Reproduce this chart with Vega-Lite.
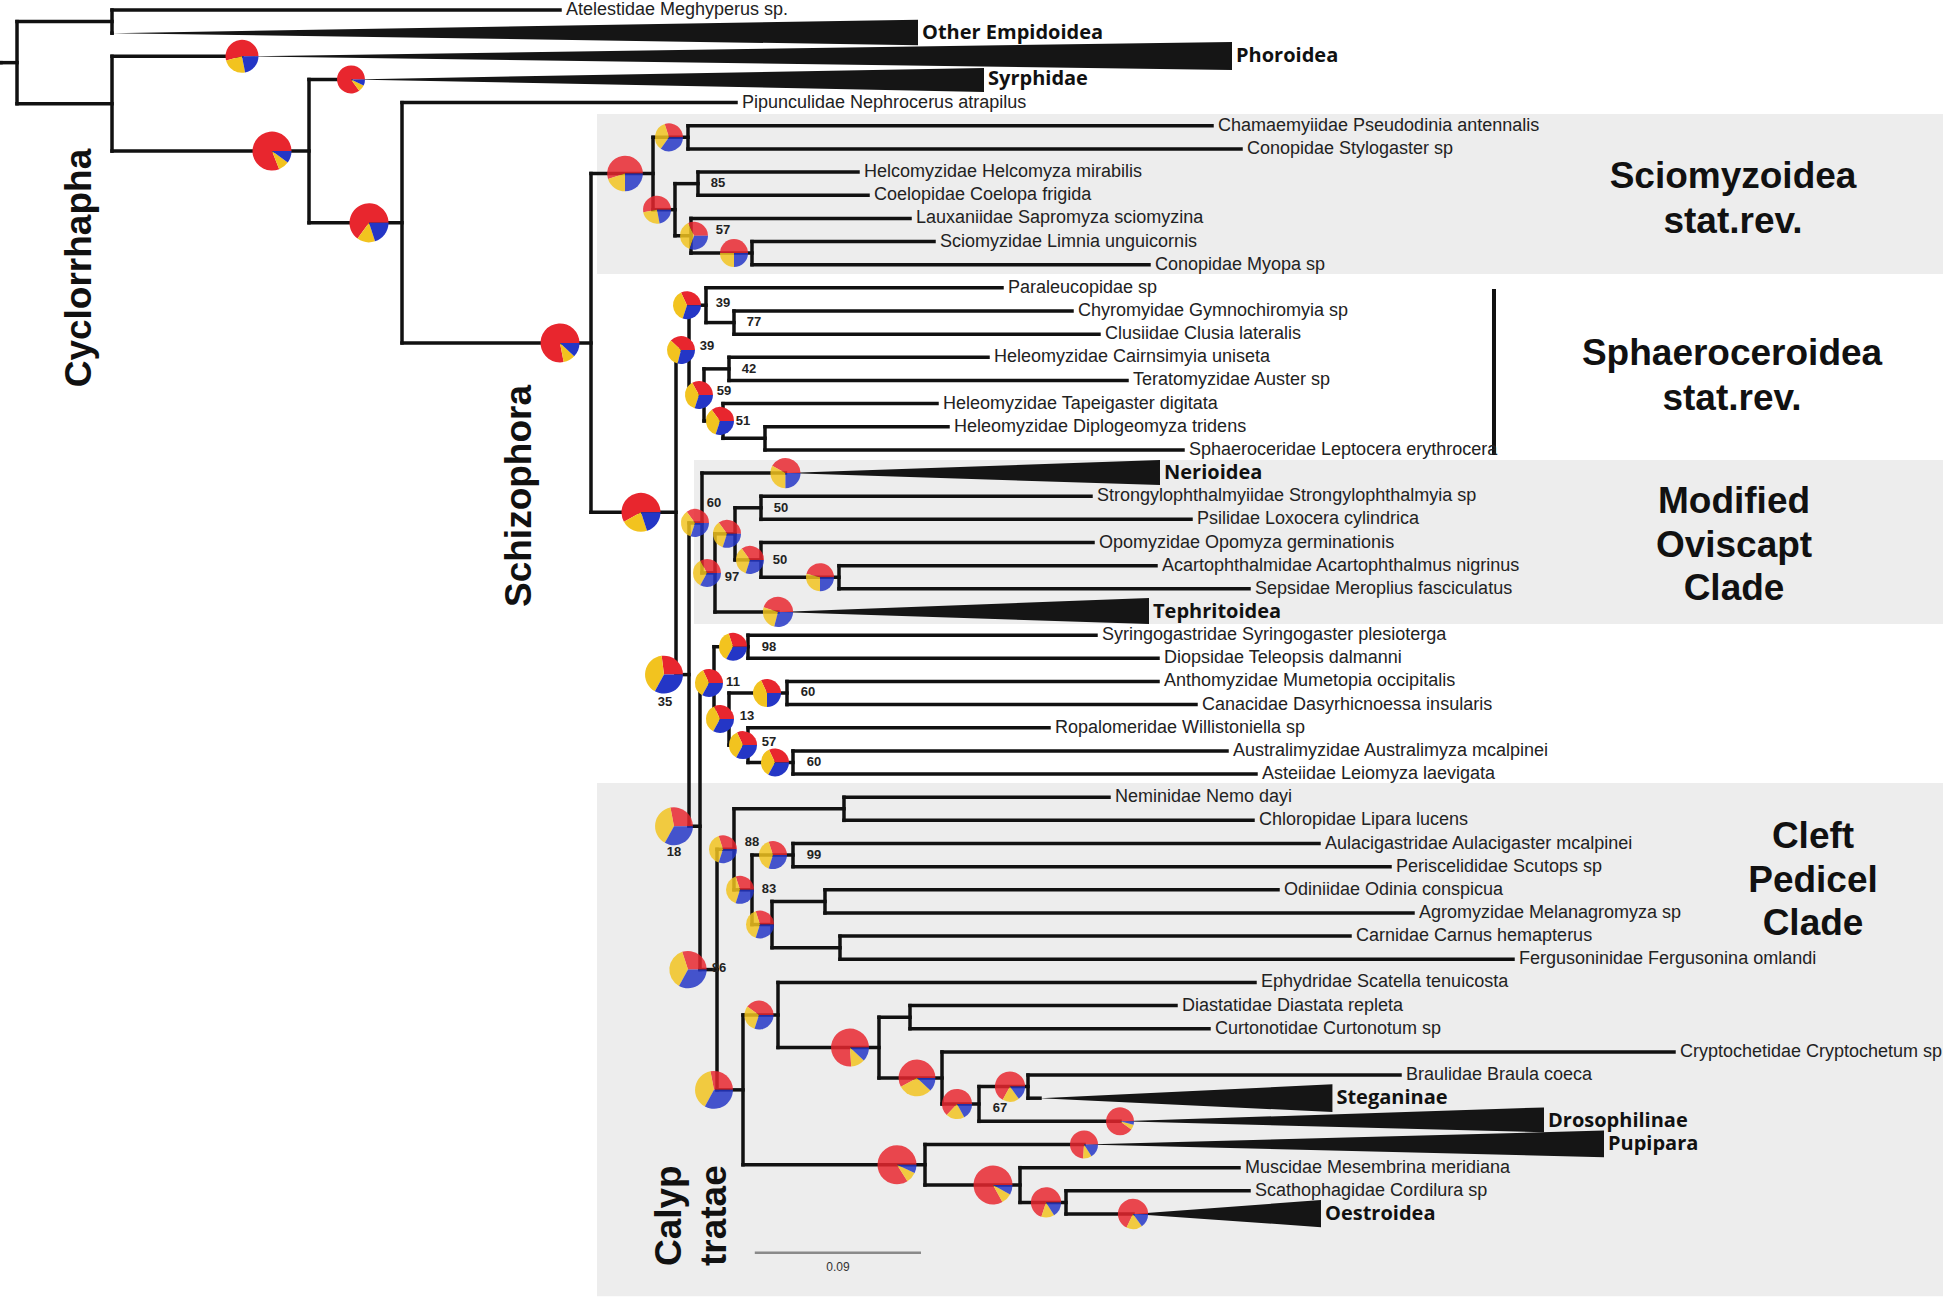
{
"$schema": "https://vega.github.io/schema/vega-lite/v6.json",
"width": 1946, "height": 1298,
"autosize": {"type": "none"},
"padding": 0,
"background": "#ffffff",
"config": {"view": {"stroke": null}},
"datasets": {
"boxes": [
{"g":"Sciomyzoidea","x0":0.31446,"x1":1.04424,"r0":4.49,"r1":11.4},
{"g":"Modified Oviscapt Clade","x0":0.36706,"x1":1.04424,"r0":19.44,"r1":26.52},
{"g":"Cleft Pedicel Clade","x0":0.31446,"x1":1.04424,"r0":33.39,"r1":55.55}
],
"nodes": [
{"id":"base","p":null,"d":-0.00868,"r":2.274},
{"id":"R","p":"base","d":0,"r":2.274},
{"id":"A","p":"R","d":0.05151,"r":0.5},
{"id":"Atel","p":"A","d":0.2944,"r":0,"lab":"Atelestidae Meghyperus sp."},
{"id":"OE","p":"A","d":0.05151,"r":1},
{"id":"B","p":"R","d":0.05151,"r":4.0475},
{"id":"Pho","p":"B","d":0.12199,"r":2},
{"id":"C","p":"B","d":0.15832,"r":6.095},
{"id":"Syr","p":"C","d":0.18109,"r":3},
{"id":"D","p":"C","d":0.20874,"r":9.19},
{"id":"Pip","p":"D","d":0.38983,"r":4,"lab":"Pipunculidae Nephrocerus atrapilus"},
{"id":"E","p":"D","d":0.31121,"r":14.379},
{"id":"F","p":"E","d":0.34483,"r":7.0625},
{"id":"F1","p":"F","d":0.3638,"r":5.5},
{"id":"Cham","p":"F1","d":0.64791,"r":5,"lab":"Chamaemyiidae Pseudodinia antennalis"},
{"id":"Sty","p":"F1","d":0.66363,"r":6,"lab":"Conopidae Stylogaster sp"},
{"id":"F2","p":"F","d":0.35675,"r":8.625},
{"id":"F3","p":"F2","d":0.36922,"r":7.5},
{"id":"Hel","p":"F3","d":0.45597,"r":7,"lab":"Helcomyzidae Helcomyza mirabilis"},
{"id":"Coe","p":"F3","d":0.4614,"r":8,"lab":"Coelopidae Coelopa frigida"},
{"id":"F4","p":"F2","d":0.36543,"r":9.75},
{"id":"Lau","p":"F4","d":0.48417,"r":9,"lab":"Lauxaniidae Sapromyza sciomyzina"},
{"id":"F5","p":"F4","d":0.3985,"r":10.5},
{"id":"Sci","p":"F5","d":0.49718,"r":10,"lab":"Sciomyzidae Limnia unguicornis"},
{"id":"Myo","p":"F5","d":0.61375,"r":11,"lab":"Conopidae Myopa sp"},
{"id":"G","p":"E","d":0.3573,"r":21.696},
{"id":"H","p":"G","d":0.36435,"r":14.6875},
{"id":"H1","p":"H","d":0.37356,"r":12.75},
{"id":"Par","p":"H1","d":0.53405,"r":12,"lab":"Paraleucopidae sp"},
{"id":"H2","p":"H1","d":0.38874,"r":13.5},
{"id":"Chy","p":"H2","d":0.572,"r":13,"lab":"Chyromyidae Gymnochiromyia sp"},
{"id":"Clu","p":"H2","d":0.58664,"r":14,"lab":"Clusiidae Clusia lateralis"},
{"id":"H3","p":"H","d":0.37248,"r":16.625},
{"id":"H5","p":"H3","d":0.38603,"r":15.5},
{"id":"Cai","p":"H5","d":0.52646,"r":15,"lab":"Heleomyzidae Cairnsimyia uniseta"},
{"id":"Ter","p":"H5","d":0.60182,"r":16,"lab":"Teratomyzidae Auster sp"},
{"id":"H6","p":"H3","d":0.38278,"r":17.75},
{"id":"Tap","p":"H6","d":0.49881,"r":17,"lab":"Heleomyzidae Tapeigaster digitata"},
{"id":"H7","p":"H6","d":0.40555,"r":18.5},
{"id":"Dip","p":"H7","d":0.50477,"r":18,"lab":"Heleomyzidae Diplogeomyza tridens"},
{"id":"Sph","p":"H7","d":0.63218,"r":19,"lab":"Sphaeroceridae Leptocera erythrocera"},
{"id":"I","p":"G","d":0.36435,"r":28.705},
{"id":"J","p":"I","d":0.37139,"r":22.156},
{"id":"Ner","p":"J","d":0.41664,"r":20},
{"id":"J1","p":"J","d":0.37844,"r":24.3125},
{"id":"J2","p":"J1","d":0.38929,"r":22.625},
{"id":"J3","p":"J2","d":0.40338,"r":21.5},
{"id":"Str","p":"J3","d":0.5823,"r":21,"lab":"Strongylophthalmyiidae Strongylophthalmyia sp"},
{"id":"Psi","p":"J3","d":0.63652,"r":22,"lab":"Psilidae Loxocera cylindrica"},
{"id":"J4","p":"J2","d":0.40338,"r":23.75},
{"id":"Opo","p":"J4","d":0.58339,"r":23,"lab":"Opomyzidae Opomyza germinationis"},
{"id":"J5","p":"J4","d":0.44567,"r":24.5},
{"id":"Aca","p":"J5","d":0.61754,"r":24,"lab":"Acartophthalmidae Acartophthalmus nigrinus"},
{"id":"Sep","p":"J5","d":0.66797,"r":25,"lab":"Sepsidae Meroplius fasciculatus"},
{"id":"Tep","p":"J1","d":0.4126,"r":26},
{"id":"K","p":"I","d":0.37031,"r":35.254},
{"id":"L","p":"K","d":0.3779,"r":29.0625},
{"id":"L1","p":"L","d":0.39633,"r":27.5},
{"id":"Syg","p":"L1","d":0.58501,"r":27,"lab":"Syringogastridae Syringogaster plesioterga"},
{"id":"Dio","p":"L1","d":0.61863,"r":28,"lab":"Diopsidae Teleopsis dalmanni"},
{"id":"L2","p":"L","d":0.38603,"r":30.625},
{"id":"L3","p":"L2","d":0.41748,"r":29.5},
{"id":"Ant","p":"L3","d":0.61863,"r":29,"lab":"Anthomyzidae Mumetopia occipitalis"},
{"id":"Can","p":"L3","d":0.63923,"r":30,"lab":"Canacidae Dasyrhicnoessa insularis"},
{"id":"L4","p":"L2","d":0.39633,"r":31.75},
{"id":"Rop","p":"L4","d":0.55953,"r":31,"lab":"Ropalomeridae Willistoniella sp"},
{"id":"L5","p":"L4","d":0.42073,"r":32.5},
{"id":"Aus","p":"L5","d":0.65604,"r":32,"lab":"Australimyzidae Australimyza mcalpinei"},
{"id":"Ast","p":"L5","d":0.67176,"r":33,"lab":"Asteiidae Leiomyza laevigata"},
{"id":"M","p":"K","d":0.37953,"r":41.445},
{"id":"N","p":"M","d":0.38874,"r":36.25},
{"id":"N1","p":"N","d":0.44838,"r":34.5},
{"id":"Nem","p":"N1","d":0.59206,"r":34,"lab":"Neminidae Nemo dayi"},
{"id":"Chl","p":"N1","d":0.67013,"r":35,"lab":"Chloropidae Lipara lucens"},
{"id":"N2","p":"N","d":0.3985,"r":38},
{"id":"N3","p":"N2","d":0.42073,"r":36.5},
{"id":"Aul","p":"N3","d":0.70592,"r":36,"lab":"Aulacigastridae Aulacigaster mcalpinei"},
{"id":"Per","p":"N3","d":0.74442,"r":37,"lab":"Periscelididae Scutops sp"},
{"id":"N4","p":"N2","d":0.40935,"r":39.5},
{"id":"N5","p":"N4","d":0.43808,"r":38.5},
{"id":"Odi","p":"N5","d":0.68369,"r":38,"lab":"Odiniidae Odinia conspicua"},
{"id":"Agr","p":"N5","d":0.75688,"r":39,"lab":"Agromyzidae Melanagromyza sp"},
{"id":"N6","p":"N4","d":0.44621,"r":40.5},
{"id":"Car","p":"N6","d":0.72273,"r":40,"lab":"Carnidae Carnus hemapterus"},
{"id":"Fer","p":"N6","d":0.8111,"r":41,"lab":"Fergusoninidae Fergusonina omlandi"},
{"id":"O","p":"M","d":0.39362,"r":46.64},
{"id":"P","p":"O","d":0.4126,"r":43.406},
{"id":"Eph","p":"P","d":0.67122,"r":42,"lab":"Ephydridae Scatella tenuicosta"},
{"id":"P1","p":"P","d":0.46736,"r":44.8125},
{"id":"P2","p":"P1","d":0.48417,"r":43.5},
{"id":"Dia","p":"P2","d":0.62839,"r":43,"lab":"Diastatidae Diastata repleta"},
{"id":"Cur","p":"P2","d":0.64628,"r":44,"lab":"Curtonotidae Curtonotum sp"},
{"id":"P3","p":"P1","d":0.50152,"r":46.125},
{"id":"Cry","p":"P3","d":0.89839,"r":45,"lab":"Cryptochetidae Cryptochetum sp"},
{"id":"P4","p":"P3","d":0.52158,"r":47.25},
{"id":"P5","p":"P4","d":0.54814,"r":46.5},
{"id":"Bra","p":"P5","d":0.74984,"r":46,"lab":"Braulidae Braula coeca"},
{"id":"Ste","p":"P5","d":0.55465,"r":47},
{"id":"Dro","p":"P4","d":0.59803,"r":48},
{"id":"Q","p":"O","d":0.4923,"r":49.875},
{"id":"Pup","p":"Q","d":0.57851,"r":49},
{"id":"Q1","p":"Q","d":0.54381,"r":50.75},
{"id":"Mus","p":"Q1","d":0.66254,"r":50,"lab":"Muscidae Mesembrina meridiana"},
{"id":"Q2","p":"Q1","d":0.56875,"r":51.5},
{"id":"Sca","p":"Q2","d":0.66797,"r":51,"lab":"Scathophagidae Cordilura sp"},
{"id":"Oes","p":"Q2","d":0.60507,"r":52}
],
"tri": [
{"c":"Other Empidoidea","d":0.05151,"r":1,"lo":1,"hi":1},
{"c":"Other Empidoidea","d":0.4885,"r":1,"lo":0.42,"hi":1.52},
{"c":"Phoroidea","d":0.12199,"r":2,"lo":2,"hi":2},
{"c":"Phoroidea","d":0.65875,"r":2,"lo":1.38,"hi":2.59},
{"c":"Syrphidae","d":0.18109,"r":3,"lo":3,"hi":3},
{"c":"Syrphidae","d":0.52429,"r":3,"lo":2.5,"hi":3.54},
{"c":"Nerioidea","d":0.41664,"r":20,"lo":20,"hi":20},
{"c":"Nerioidea","d":0.61971,"r":20,"lo":19.44,"hi":20.52},
{"c":"Tephritoidea","d":0.4126,"r":26,"lo":26,"hi":26},
{"c":"Tephritoidea","d":0.61375,"r":26,"lo":25.4,"hi":26.52},
{"c":"Steganinae","d":0.55465,"r":47,"lo":47,"hi":47},
{"c":"Steganinae","d":0.7132,"r":47,"lo":46.4,"hi":47.6},
{"c":"Drosophilinae","d":0.59803,"r":48,"lo":48,"hi":48},
{"c":"Drosophilinae","d":0.82791,"r":48,"lo":47.4,"hi":48.47},
{"c":"Pupipara","d":0.57851,"r":49,"lo":49,"hi":49},
{"c":"Pupipara","d":0.86044,"r":49,"lo":48.4,"hi":49.55},
{"c":"Oestroidea","d":0.60507,"r":52,"lo":52,"hi":52},
{"c":"Oestroidea","d":0.707,"r":52,"lo":51.4,"hi":52.57}
],
"pies": [
{"n":"Pho","hl":false,"d":0.12199,"r":2,"s":1.9,"q1":0.54,"q2":0.24,"q3":0.22},
{"n":"Syr","hl":false,"d":0.18109,"r":3,"s":1,"q1":0.85,"q2":0.08,"q3":0.07},
{"n":"C","hl":false,"d":0.13826,"r":6.095,"s":3,"q1":0.81,"q2":0.09,"q3":0.1},
{"n":"D","hl":false,"d":0.19085,"r":9.19,"s":3,"q1":0.65,"q2":0.15,"q3":0.2},
{"n":"E","hl":false,"d":0.2944,"r":14.379,"s":3,"q1":0.78,"q2":0.1,"q3":0.12},
{"n":"F","hl":true,"d":0.32965,"r":7.0625,"s":2.4,"q1":0.55,"q2":0.2,"q3":0.25},
{"n":"F1","hl":true,"d":0.3535,"r":5.5,"s":1,"q1":0.3,"q2":0.35,"q3":0.35},
{"n":"F2","hl":true,"d":0.347,"r":8.625,"s":1,"q1":0.53,"q2":0.25,"q3":0.22},
{"n":"F4","hl":true,"d":0.36706,"r":9.75,"s":1,"q1":0.32,"q2":0.38,"q3":0.3},
{"n":"F5","hl":true,"d":0.38874,"r":10.5,"s":1,"q1":0.5,"q2":0.25,"q3":0.25},
{"n":"G","hl":false,"d":0.33832,"r":21.696,"s":3,"q1":0.58,"q2":0.22,"q3":0.2},
{"n":"H1","hl":false,"d":0.36326,"r":12.75,"s":1,"q1":0.32,"q2":0.38,"q3":0.3},
{"n":"H","hl":false,"d":0.36001,"r":14.6875,"s":1,"q1":0.38,"q2":0.33,"q3":0.29},
{"n":"H3","hl":false,"d":0.36977,"r":16.625,"s":1,"q1":0.33,"q2":0.37,"q3":0.3},
{"n":"H6","hl":false,"d":0.38115,"r":17.75,"s":1,"q1":0.35,"q2":0.35,"q3":0.3},
{"n":"Ner","hl":true,"d":0.41664,"r":20,"s":1.4,"q1":0.42,"q2":0.33,"q3":0.25},
{"n":"J","hl":true,"d":0.3676,"r":22.156,"s":1,"q1":0.35,"q2":0.35,"q3":0.3},
{"n":"J2","hl":true,"d":0.38495,"r":22.625,"s":1,"q1":0.35,"q2":0.35,"q3":0.3},
{"n":"J4","hl":true,"d":0.39742,"r":23.75,"s":1,"q1":0.35,"q2":0.35,"q3":0.3},
{"n":"J5","hl":true,"d":0.43537,"r":24.5,"s":1,"q1":0.46,"q2":0.29,"q3":0.25},
{"n":"J1","hl":true,"d":0.3741,"r":24.3125,"s":1,"q1":0.33,"q2":0.34,"q3":0.33},
{"n":"Tep","hl":true,"d":0.4126,"r":26,"s":1.4,"q1":0.45,"q2":0.26,"q3":0.29},
{"n":"I","hl":false,"d":0.35079,"r":28.705,"s":2.8,"q1":0.27,"q2":0.4,"q3":0.33},
{"n":"L1","hl":false,"d":0.3882,"r":27.5,"s":1,"q1":0.3,"q2":0.37,"q3":0.33},
{"n":"L","hl":false,"d":0.37518,"r":29.0625,"s":1,"q1":0.32,"q2":0.35,"q3":0.33},
{"n":"L3","hl":false,"d":0.40664,"r":29.5,"s":1,"q1":0.32,"q2":0.43,"q3":0.25},
{"n":"L2","hl":false,"d":0.38115,"r":30.625,"s":1,"q1":0.32,"q2":0.35,"q3":0.33},
{"n":"L4","hl":false,"d":0.39362,"r":31.75,"s":1,"q1":0.32,"q2":0.35,"q3":0.33},
{"n":"L5","hl":false,"d":0.41097,"r":32.5,"s":1,"q1":0.32,"q2":0.35,"q3":0.33},
{"n":"K","hl":true,"d":0.35621,"r":35.254,"s":2.8,"q1":0.28,"q2":0.39,"q3":0.33},
{"n":"N","hl":true,"d":0.38278,"r":36.25,"s":1,"q1":0.3,"q2":0.4,"q3":0.3},
{"n":"N3","hl":true,"d":0.40989,"r":36.5,"s":1,"q1":0.3,"q2":0.4,"q3":0.3},
{"n":"N2","hl":true,"d":0.392,"r":38,"s":1,"q1":0.3,"q2":0.4,"q3":0.3},
{"n":"N4","hl":true,"d":0.40284,"r":39.5,"s":1,"q1":0.3,"q2":0.4,"q3":0.3},
{"n":"M","hl":true,"d":0.3638,"r":41.445,"s":2.7,"q1":0.3,"q2":0.37,"q3":0.33},
{"n":"O","hl":true,"d":0.3779,"r":46.64,"s":2.8,"q1":0.28,"q2":0.39,"q3":0.33},
{"n":"P","hl":true,"d":0.4023,"r":43.406,"s":1.2,"q1":0.4,"q2":0.3,"q3":0.3},
{"n":"P1","hl":true,"d":0.45164,"r":44.8125,"s":2.8,"q1":0.76,"q2":0.12,"q3":0.12},
{"n":"P3","hl":true,"d":0.48796,"r":46.125,"s":2.6,"q1":0.58,"q2":0.3,"q3":0.12},
{"n":"P4","hl":true,"d":0.50965,"r":47.25,"s":1.4,"q1":0.63,"q2":0.2,"q3":0.17},
{"n":"P5","hl":true,"d":0.53838,"r":46.5,"s":1.4,"q1":0.67,"q2":0.18,"q3":0.15},
{"n":"Dro","hl":true,"d":0.59803,"r":48,"s":1,"q1":0.9,"q2":0.06,"q3":0.04},
{"n":"Q","hl":true,"d":0.47712,"r":49.875,"s":3,"q1":0.84,"q2":0.09,"q3":0.07},
{"n":"Pup","hl":true,"d":0.57851,"r":49,"s":1,"q1":0.74,"q2":0.1,"q3":0.16},
{"n":"Q1","hl":true,"d":0.52917,"r":50.75,"s":3,"q1":0.83,"q2":0.09,"q3":0.08},
{"n":"Q2","hl":true,"d":0.55791,"r":51.5,"s":1.4,"q1":0.7,"q2":0.14,"q3":0.16},
{"n":"Oes","hl":true,"d":0.60507,"r":52,"s":1.4,"q1":0.68,"q2":0.17,"q3":0.15}
],
"bs": [
{"t":"85","d":0.38007,"r":7.47},
{"t":"57","d":0.38278,"r":9.5},
{"t":"39","d":0.38278,"r":12.66},
{"t":"77","d":0.39959,"r":13.48},
{"t":"39","d":0.3741,"r":14.51},
{"t":"42","d":0.39688,"r":15.51},
{"t":"59","d":0.38332,"r":16.46},
{"t":"51","d":0.39362,"r":17.75},
{"t":"60","d":0.3779,"r":21.3},
{"t":"50","d":0.41422,"r":21.51},
{"t":"50","d":0.41368,"r":23.76},
{"t":"97","d":0.38766,"r":24.49},
{"t":"98","d":0.40772,"r":27.52},
{"t":"35","d":0.35133,"r":29.89},
{"t":"11","d":0.3882,"r":29.03},
{"t":"60","d":0.42886,"r":29.46},
{"t":"13","d":0.39579,"r":30.5},
{"t":"57","d":0.40772,"r":31.62},
{"t":"60","d":0.43211,"r":32.48},
{"t":"18","d":0.35621,"r":36.37},
{"t":"88","d":0.3985,"r":35.94},
{"t":"99","d":0.43211,"r":36.5},
{"t":"83","d":0.40772,"r":37.97},
{"t":"86","d":0.38061,"r":41.38},
{"t":"67","d":0.53296,"r":47.43}
],
"groups2": [
{"t":"Sciomyzoidea\nstat.rev.","d":0.9304,"r":7.22},
{"t":"Sphaeroceroidea\nstat.rev.","d":0.92986,"r":14.86}
],
"groups3": [
{"t":"Modified\nOviscapt\nClade","d":0.93094,"r":21.27},
{"t":"Cleft\nPedicel\nClade","d":0.97376,"r":35.72}
],
"vlab": [
{"t":"Cyclorrhapha","d":0.03416,"r":11.145},
{"t":"Schizophora","d":0.27245,"r":20.99}
]
},
"layer": [
{"data":{"name":"boxes"},"mark":{"type":"rect","color":"#ededed"},
 "encoding":{"x":{"field":"x0","type":"quantitative","scale":{"domain":[-0.00922,1.04587],"nice":false,"zero":false},"axis":null},"x2":{"field":"x1"},
  "y":{"field":"r0","type":"quantitative","scale":{"domain":[-0.432,55.63],"nice":false,"zero":false,"reverse":true},"axis":null},"y2":{"field":"r1"}}},
{"data":{"name":"nodes"},
 "transform":[{"filter":"isValid(datum.p)"},{"lookup":"p","from":{"data":{"name":"nodes"},"key":"id","fields":["d"]},"as":["pd"]}],
 "mark":{"type":"rule","color":"#111111","strokeWidth":3.5,"strokeCap":"square"},
 "encoding":{"x":{"field":"pd","type":"quantitative","scale":{"domain":[-0.00922,1.04587],"nice":false,"zero":false},"axis":null},"x2":{"field":"d"},
  "y":{"field":"r","type":"quantitative","scale":{"domain":[-0.432,55.63],"nice":false,"zero":false,"reverse":true},"axis":null}}},
{"data":{"name":"nodes"},
 "transform":[{"filter":"isValid(datum.p)"},{"aggregate":[{"op":"min","field":"r","as":"r0"},{"op":"max","field":"r","as":"r1"}],"groupby":["p"]},{"lookup":"p","from":{"data":{"name":"nodes"},"key":"id","fields":["d"]},"as":["pd"]}],
 "mark":{"type":"rule","color":"#111111","strokeWidth":3.5,"strokeCap":"square"},
 "encoding":{"x":{"field":"pd","type":"quantitative","scale":{"domain":[-0.00922,1.04587],"nice":false,"zero":false},"axis":null},
  "y":{"field":"r0","type":"quantitative","scale":{"domain":[-0.432,55.63],"nice":false,"zero":false,"reverse":true},"axis":null},"y2":{"field":"r1"}}},
{"data":{"name":"tri"},"mark":{"type":"area","color":"#151515","orient":"vertical"},
 "encoding":{"x":{"field":"d","type":"quantitative","scale":{"domain":[-0.00922,1.04587],"nice":false,"zero":false},"axis":null},
  "y":{"field":"lo","type":"quantitative","scale":{"domain":[-0.432,55.63],"nice":false,"zero":false,"reverse":true},"axis":null},"y2":{"field":"hi"},
  "detail":{"field":"c","type":"nominal"}}},
{"data":{"values":[{"d":0.8008,"r0":12.05,"r1":19.22}]},"mark":{"type":"rule","color":"#111111","strokeWidth":4},
 "encoding":{"x":{"field":"d","type":"quantitative","scale":{"domain":[-0.00922,1.04587],"nice":false,"zero":false},"axis":null},
  "y":{"field":"r0","type":"quantitative","scale":{"domain":[-0.432,55.63],"nice":false,"zero":false,"reverse":true},"axis":null},"y2":{"field":"r1"}}},
{"data":{"values":[{"a":0.40001,"b":0.49013,"r":53.68}]},"mark":{"type":"rule","color":"#8a8a8a","strokeWidth":2.5},
 "encoding":{"x":{"field":"a","type":"quantitative","scale":{"domain":[-0.00922,1.04587],"nice":false,"zero":false},"axis":null},"x2":{"field":"b"},
  "y":{"field":"r","type":"quantitative","scale":{"domain":[-0.432,55.63],"nice":false,"zero":false,"reverse":true},"axis":null}}},
{"data":{"values":[{"t":"0.09","d":0.44507,"r":54.3}]},"mark":{"type":"text","font":"Liberation Sans","fontSize":12,"color":"#333333","align":"center","baseline":"middle"},
 "encoding":{"x":{"field":"d","type":"quantitative","scale":{"domain":[-0.00922,1.04587],"nice":false,"zero":false},"axis":null},
  "y":{"field":"r","type":"quantitative","scale":{"domain":[-0.432,55.63],"nice":false,"zero":false,"reverse":true},"axis":null},"text":{"field":"t"}}},
{"data":{"name":"nodes"},"transform":[{"filter":"isValid(datum.lab)"}],
 "mark":{"type":"text","font":"Liberation Sans","fontSize":18,"color":"#222222","align":"left","baseline":"middle","dx":6},
 "encoding":{"x":{"field":"d","type":"quantitative","scale":{"domain":[-0.00922,1.04587],"nice":false,"zero":false},"axis":null},
  "y":{"field":"r","type":"quantitative","scale":{"domain":[-0.432,55.63],"nice":false,"zero":false,"reverse":true},"axis":null},"text":{"field":"lab"}}},
{"data":{"name":"tri"},"transform":[{"filter":"datum.lo < datum.hi"}],
 "mark":{"type":"text","font":"Open Sans","fontWeight":"bold","fontSize":20,"color":"#111111","align":"left","baseline":"middle","dx":4},
 "encoding":{"x":{"field":"d","type":"quantitative","scale":{"domain":[-0.00922,1.04587],"nice":false,"zero":false},"axis":null},
  "y":{"field":"r","type":"quantitative","scale":{"domain":[-0.432,55.63],"nice":false,"zero":false,"reverse":true},"axis":null},"text":{"field":"c"}}},
{"data":{"name":"pies"},
 "transform":[{"fold":["q1","q2","q3"],"as":["q","v"]},{"stack":"v","groupby":["n"],"sort":[{"field":"q","order":"descending"}],"offset":"normalize","as":["t0","t1"]}],
 "mark":{"type":"arc"},
 "encoding":{"x":{"field":"d","type":"quantitative","scale":{"domain":[-0.00922,1.04587],"nice":false,"zero":false},"axis":null},
  "y":{"field":"r","type":"quantitative","scale":{"domain":[-0.432,55.63],"nice":false,"zero":false,"reverse":true},"axis":null},
  "theta":{"field":"t0","type":"quantitative","stack":null,"scale":{"domain":[0,1],"range":[1.5708,7.854]}},
  "theta2":{"field":"t1"},
  "radius":{"field":"s","type":"quantitative","scale":{"type":"linear","domain":[1,3],"range":[14,19.5],"zero":false}},
  "radius2":{"value":0},
  "opacity":{"condition":{"test":"datum.hl","value":0.84},"value":1},
  "color":{"field":"q","type":"nominal","scale":{"domain":["q1","q2","q3"],"range":["#e8262e","#f2c31f","#2436c6"]},"legend":null}}},
{"data":{"name":"bs"},
 "mark":{"type":"text","font":"Liberation Sans","fontWeight":"bold","fontSize":13,"color":"#222222","align":"center","baseline":"middle"},
 "encoding":{"x":{"field":"d","type":"quantitative","scale":{"domain":[-0.00922,1.04587],"nice":false,"zero":false},"axis":null},
  "y":{"field":"r","type":"quantitative","scale":{"domain":[-0.432,55.63],"nice":false,"zero":false,"reverse":true},"axis":null},"text":{"field":"t"}}},
{"data":{"name":"groups2"},
 "mark":{"type":"text","font":"Liberation Sans","fontWeight":"bold","fontSize":37,"color":"#111111","align":"center","baseline":"middle","lineBreak":"\n","lineHeight":45},
 "encoding":{"x":{"field":"d","type":"quantitative","scale":{"domain":[-0.00922,1.04587],"nice":false,"zero":false},"axis":null},
  "y":{"field":"r","type":"quantitative","scale":{"domain":[-0.432,55.63],"nice":false,"zero":false,"reverse":true},"axis":null},"text":{"field":"t"}}},
{"data":{"name":"groups3"},
 "mark":{"type":"text","font":"Liberation Sans","fontWeight":"bold","fontSize":37,"color":"#111111","align":"center","baseline":"middle","lineBreak":"\n","lineHeight":43.5},
 "encoding":{"x":{"field":"d","type":"quantitative","scale":{"domain":[-0.00922,1.04587],"nice":false,"zero":false},"axis":null},
  "y":{"field":"r","type":"quantitative","scale":{"domain":[-0.432,55.63],"nice":false,"zero":false,"reverse":true},"axis":null},"text":{"field":"t"}}},
{"data":{"name":"vlab"},
 "mark":{"type":"text","font":"Liberation Sans","fontWeight":"bold","fontSize":37,"color":"#111111","align":"center","baseline":"middle","angle":270},
 "encoding":{"x":{"field":"d","type":"quantitative","scale":{"domain":[-0.00922,1.04587],"nice":false,"zero":false},"axis":null},
  "y":{"field":"r","type":"quantitative","scale":{"domain":[-0.432,55.63],"nice":false,"zero":false,"reverse":true},"axis":null},"text":{"field":"t"}}},
{"data":{"values":[{"t":"Calyp\ntratae","d":0.35404,"r":54.25}]},
 "mark":{"type":"text","font":"Liberation Sans","fontWeight":"bold","fontSize":37,"color":"#111111","align":"left","baseline":"middle","angle":270,"lineBreak":"\n","lineHeight":45},
 "encoding":{"x":{"field":"d","type":"quantitative","scale":{"domain":[-0.00922,1.04587],"nice":false,"zero":false},"axis":null},
  "y":{"field":"r","type":"quantitative","scale":{"domain":[-0.432,55.63],"nice":false,"zero":false,"reverse":true},"axis":null},"text":{"field":"t"}}}
]
}
